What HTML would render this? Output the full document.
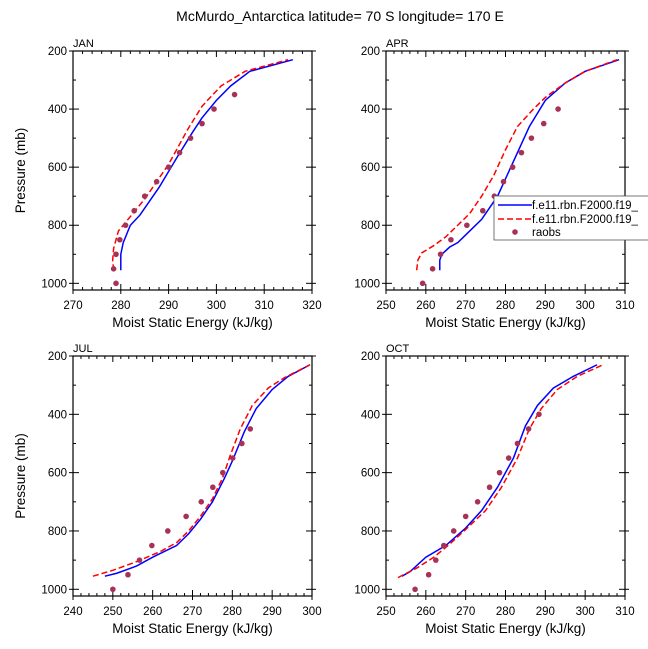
<!DOCTYPE html>
<html><head><meta charset="utf-8"><style>
body{margin:0;background:#fff;}
svg{display:block;font-family:"Liberation Sans",sans-serif;}
</style></head><body>
<svg id="c" width="648" height="649" viewBox="0 0 648 649">
<text x="340" y="21" font-size="14" text-anchor="middle">McMurdo_Antarctica  latitude= 70 S longitude= 170 E</text>
</svg>
<script>
const panelNames=["JAN","APR","JUL","OCT"];
const xRanges=[[270,320],[250,310],[240,300],[250,310]];
const yTicks=[200,400,600,800,1000];
const janBlue=[[280,955],[280,900],[280.5,860],[282,800],[284,765],[288,670],[292,560],[295,480],[297,430],[300,370],[303,320],[307,270],[316,230]];
const janRed=[[278.5,955],[278.3,920],[278.5,880],[279.5,820],[281,790],[285,710],[290,590],[294,470],[297,390],[301,320],[306,270],[315,230]];
const janObs=[[279,1000],[278.5,950],[279,900],[279.8,850],[281,800],[282.8,750],[285,700],[287.5,650],[290,600],[292.3,550],[294.6,500],[297,450],[299.5,400],[303.8,350]];
const aprBlue=[[263.5,955],[263.5,920],[264,900],[266,875],[268,860],[271,820],[274,780],[276,740],[278,700],[280,640],[283,550],[286,460],[290,370],[295,310],[300,270],[308.5,230]];
const aprRed=[[257.7,955],[258,920],[259,895],[262,870],[265,840],[268,800],[271,760],[274,700],[277,630],[280,540],[283,460],[287,400],[290,360],[295,310],[300,270],[308,230]];
const aprObs=[[259.2,1000],[261.7,950],[263.7,900],[266.3,850],[270.3,800],[274.3,750],[277.2,700],[279.5,650],[281.8,600],[284,550],[286.5,500],[289.6,450],[293.2,400]];
const julBlue=[[248,955],[251,945],[256,920],[260,890],[266,850],[269,810],[272,760],[275,700],[278,620],[280,560],[283,460],[286,380],[290,315],[294,270],[299.5,230]];
const julRed=[[245,955],[250,935],[256,905],[262,870],[266,840],[269,800],[272,750],[275,690],[277.5,620],[279.5,540],[282,450],[285,370],[289,310],[293,275],[299.5,230]];
const julObs=[[250,1000],[253.8,950],[256.7,900],[259.8,850],[263.8,800],[268.4,750],[272.2,700],[275.1,650],[277.6,600],[280.1,550],[282.4,500],[284.5,450]];
const octBlue=[[254,955],[256,940],[260,890],[265,850],[270,790],[274,730],[278,650],[282,550],[285,440],[288,370],[292,310],[297,270],[303,230]];
const octRed=[[253,960],[258,925],[262,890],[266,845],[270,795],[275,730],[279,650],[283,550],[286,450],[289,380],[293,315],[298,270],[304.5,230]];
const octObs=[[257.3,1000],[260.7,950],[262.5,900],[264.5,850],[267,800],[270,750],[273,700],[276,650],[278.5,600],[280.8,550],[283,500],[285.8,450],[288.4,400]];
const blues=[janBlue,aprBlue,julBlue,octBlue];
const reds=[janRed,aprRed,julRed,octRed];
const obs=[janObs,aprObs,julObs,octObs];
const legendLabels=["f.e11.rbn.F2000.f19_","f.e11.rbn.F2000.f19_","raobs"];

const svg=document.getElementById('c');
const NS="http://www.w3.org/2000/svg";
function mk(tag,attrs,parent){const e=document.createElementNS(NS,tag);for(const k in attrs)e.setAttribute(k,attrs[k]);(parent||svg).appendChild(e);return e;}
const boxes=[[73,51,312,290],[386,51,625,290],[73,356,312,596],[386,356,625,596]];
for(let p=0;p<4;p++){
  const [L,T,R,B]=boxes[p];
  const [x0,x1]=xRanges[p];
  const y200=T, y1000=T+(B-T)*(800/823);
  const sx=v=>L+(v-x0)/(x1-x0)*(R-L);
  const sy=v=>y200+(v-200)/800*(y1000-y200);
  const g=mk('g',{});
  
  
  const t=mk('text',{x:L,y:T-4,'font-size':11},g);t.textContent=panelNames[p];
  
  
  for(let v=x0;v<=x1;v+=2){const X=sx(v);const maj=(v%10===0);const len=maj?6:3;
    mk('line',{x1:X,y1:B,x2:X,y2:B-len,stroke:'#000','stroke-width':1},g);
    mk('line',{x1:X,y1:T,x2:X,y2:T+len,stroke:'#000','stroke-width':1},g);
    if(maj){mk('line',{x1:X,y1:B,x2:X,y2:B+4,stroke:'#000'},g);
      const tl=mk('text',{x:X,y:B+19,'font-size':11.5,'text-anchor':'middle'},g);tl.textContent=v;
      
      }
  }
  for(let v=200;v<=1000;v+=100){const Y=sy(v);const maj=(v%200===0);const len=maj?6:3;
    mk('line',{x1:L,y1:Y,x2:L+len,y2:Y,stroke:'#000'},g);
    mk('line',{x1:R,y1:Y,x2:R-len,y2:Y,stroke:'#000'},g);
    if(maj){mk('line',{x1:L,y1:Y,x2:L-4,y2:Y,stroke:'#000'},g);mk('line',{x1:R,y1:Y,x2:R+4,y2:Y,stroke:'#000'},g);}
  }
  for(const v of yTicks){const tl=mk('text',{x:L-6,y:sy(v)+4,'font-size':11.5,'text-anchor':'end'},g);tl.textContent=v;
    
    }
  mk('rect',{x:L,y:T,width:R-L,height:B-T,fill:'none',stroke:'#000','stroke-width':1.2},g);
  const pb=mk('polyline',{points:blues[p].map(d=>sx(d[0])+','+sy(d[1])).join(' '),fill:'none',stroke:'#0000ff','stroke-width':1.5},g);
  
  
  const pr=mk('polyline',{points:reds[p].map(d=>sx(d[0])+','+sy(d[1])).join(' '),fill:'none',stroke:'#ff0000','stroke-width':1.5,'stroke-dasharray':'6,3'},g);
  
  
  for(const d of obs[p]){const c=mk('circle',{cx:sx(d[0]),cy:sy(d[1]),r:2.8,fill:'#a83256'},g);
    
    }
  if(p%2===0){const yt=mk('text',{x:0,y:0,'font-size':13.5,'text-anchor':'middle',transform:`translate(25,${(T+B)/2}) rotate(-90)`},g);yt.textContent='Pressure (mb)';
    
    }
  const xt=mk('text',{x:(L+R)/2,y:B+37,'font-size':13.5,'text-anchor':'middle'},g);xt.textContent='Moist Static Energy (kJ/kg)';
  
  
}
const lg=mk('g',{});


mk('rect',{x:494,y:196,width:160,height:44,fill:'#fff',stroke:'#555','stroke-width':0.8},lg);
const ly=[205,219,232];
mk('line',{x1:498,y1:ly[0],x2:532,y2:ly[0],stroke:'#0000ff','stroke-width':1.5},lg);
mk('line',{x1:498,y1:ly[1],x2:532,y2:ly[1],stroke:'#ff0000','stroke-width':1.5,'stroke-dasharray':'6,3'},lg);
mk('circle',{cx:515,cy:ly[2],r:2.8,fill:'#a83256'},lg);
for(let i=0;i<3;i++){const t=mk('text',{x:532,y:ly[i]+4,'font-size':11.5},lg);t.textContent=legendLabels[i];
  
  }
</script>
</body></html>
